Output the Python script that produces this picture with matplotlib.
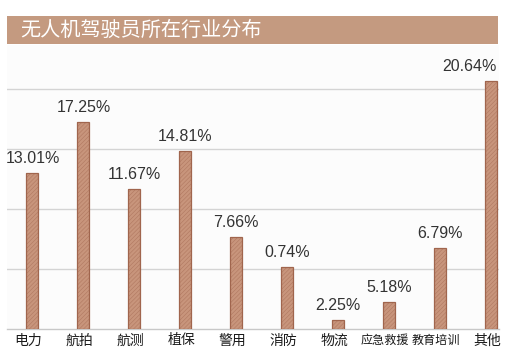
import matplotlib
matplotlib.use('Agg')
import matplotlib.pyplot as plt
from matplotlib.patches import Rectangle
from matplotlib.transforms import ScaledTranslation

plt.rcParams['font.family'] = ['Noto Sans CJK SC', 'DejaVu Sans']
plt.rcParams['hatch.linewidth'] = 0.4

# Data
categories = ['电力', '航拍', '航测', '植保', '警用', '消防', '物流', '应急救援', '教育培训', '其他']
bar_heights = [13.01, 17.25, 11.67, 14.81, 7.66, 5.18, 0.74, 2.25, 6.79, 20.64]
value_labels = ['13.01%', '17.25%', '11.67%', '14.81%', '7.66%', '0.74%', '2.25%', '5.18%', '6.79%', '20.64%']
title = '无人机驾驶员所在行业分布'

fig = plt.figure(figsize=(5.06, 3.61), dpi=100)

# Title banner
fig.patches.append(Rectangle((7 / 506, 1 - 43.7 / 361), (498 - 7) / 506, 27.7 / 361,
                             transform=fig.transFigure, facecolor='#c49a80', edgecolor='none'))
fig.text(20 / 506, 1 - 30 / 361, title, color='white', fontsize=14.5, va='center', ha='left')

ax = fig.add_axes([7 / 506, 0.0878, 492 / 506, 0.787])
ax.set_facecolor('#fcfcfc')

x = list(range(len(categories)))
bar_w = 0.236
# fill with fine hatch, then a darker outline on top
ax.bar(x, bar_heights, width=bar_w, color='#c8957c', edgecolor='#b07860',
       linewidth=0, hatch='////////', zorder=3)
ax.bar(x, bar_heights, width=bar_w, fill=False, edgecolor='#a0654d',
       linewidth=0.9, zorder=4)

# Value labels above each bar
for i, (h, lab) in enumerate(zip(bar_heights, value_labels)):
    if i == len(categories) - 1:
        ax.annotate(lab, (i + bar_w / 2, h), xytext=(0, 5), textcoords='offset points',
                    ha='right', va='bottom', fontsize=11.5, color='#333333',
                    family=['Liberation Sans', 'DejaVu Sans'])
    else:
        ax.annotate(lab, (i, h), xytext=(0, 5), textcoords='offset points',
                    ha='center', va='bottom', fontsize=11.5, color='#333333',
                    family=['Liberation Sans', 'DejaVu Sans'])

ax.set_xlim(-0.5, 9.16)
ax.set_ylim(0, 23.6)
ax.set_yticks([5, 10, 15, 20])
ax.yaxis.grid(True, color='#d4d4d4', linewidth=1.0, zorder=0)
ax.tick_params(axis='y', length=0, labelleft=False)
ax.set_xticks(x)
ax.set_xticklabels(categories, color='#1a1a1a', fontweight='medium')
ax.tick_params(axis='x', length=0, pad=3)

# long labels are set narrower in the original
shift = ScaledTranslation(-4 / 100, 0, fig.dpi_scale_trans)
for lbl in ax.get_xticklabels():
    lbl.set_fontsize(10 if len(lbl.get_text()) <= 2 else 8.7)
    lbl.set_transform(lbl.get_transform() + shift)

for side in ['top', 'right', 'left']:
    ax.spines[side].set_visible(False)
ax.spines['bottom'].set_color('#c8c8c8')
ax.spines['bottom'].set_linewidth(1.0)

fig.savefig('out.png', dpi=100)
